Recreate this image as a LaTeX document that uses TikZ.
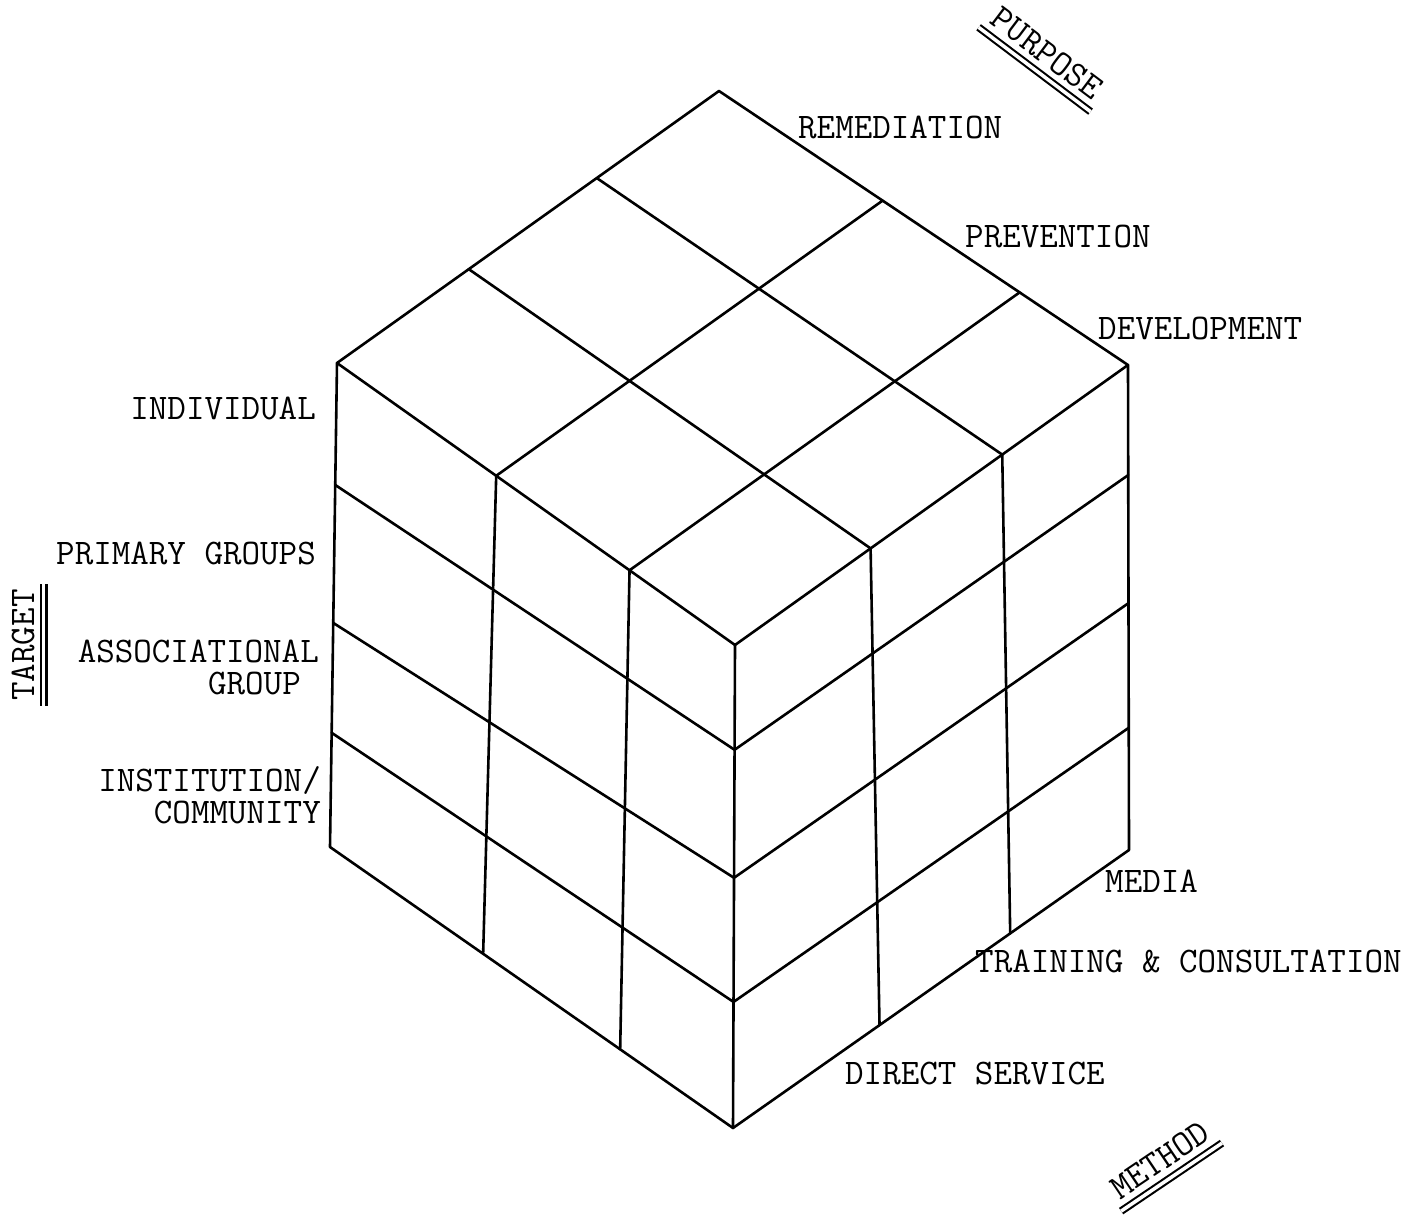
\documentclass[tikz,border=0pt]{standalone}
\usepackage{fontspec}
\usetikzlibrary{calc}
\begin{document}
\begin{tikzpicture}[x=1pt,y=-1pt,
  edge/.style={line width=2.6pt, line cap=round, line join=round},
  lbl/.style={font=\fontsize{36}{32}\selectfont\ttfamily\addfontfeatures{FakeBold=1.3}, inner sep=0pt},
  axislbl/.style={lbl, inner xsep=5pt},
  rule/.style={double distance=3.5pt, line width=2.1pt}]
\useasboundingbox (0,0) rectangle (1403,1220);
\fill[white] (0,0) rectangle (1403,1220);

% cube corners
\coordinate (T)  at (719,91);
\coordinate (L)  at (337,363);
\coordinate (F)  at (735,645);
\coordinate (R)  at (1128,365);
\coordinate (BL) at (330,847);
\coordinate (B)  at (733,1128);
\coordinate (BR) at (1129,850);

% top face divisions
\coordinate (tl1) at ($(T)!0.32!(L)$);
\coordinate (tl2) at ($(T)!0.655!(L)$);
\coordinate (fr1) at ($(R)!0.32!(F)$);
\coordinate (fr2) at ($(R)!0.655!(F)$);
\coordinate (tr1) at ($(T)!0.40!(R)$);
\coordinate (tr2) at ($(T)!0.735!(R)$);
\coordinate (lf1) at ($(L)!0.40!(F)$);
\coordinate (lf2) at ($(L)!0.735!(F)$);

% bottom edge divisions
\coordinate (bb1) at ($(BL)!0.38!(B)$);
\coordinate (bb2) at ($(BL)!0.72!(B)$);
\coordinate (rb1) at ($(BR)!0.30!(B)$);
\coordinate (rb2) at ($(BR)!0.63!(B)$);

% row divisions on the vertical edges
\coordinate (l1) at ($(L)!0.252!(BL)$);
\coordinate (l2) at ($(L)!0.537!(BL)$);
\coordinate (l3) at ($(L)!0.764!(BL)$);
\coordinate (f1) at ($(F)!0.217!(B)$);
\coordinate (f2) at ($(F)!0.482!(B)$);
\coordinate (f3) at ($(F)!0.739!(B)$);
\coordinate (r1) at ($(R)!0.227!(BR)$);
\coordinate (r2) at ($(R)!0.491!(BR)$);
\coordinate (r3) at ($(R)!0.748!(BR)$);

% outline
\draw[edge] (T) -- (R) -- (BR) -- (B) -- (BL) -- (L) -- cycle;
\draw[edge] (L) -- (F) -- (R);
\draw[edge] (F) -- (B);

% top face grid
\draw[edge] (tl1) -- (fr1);
\draw[edge] (tl2) -- (fr2);
\draw[edge] (tr1) -- (lf1);
\draw[edge] (tr2) -- (lf2);

% side face columns
\draw[edge] (lf1) -- (bb1);
\draw[edge] (lf2) -- (bb2);
\draw[edge] (fr1) -- (rb1);
\draw[edge] (fr2) -- (rb2);

% side face rows
\draw[edge] (l1) -- (f1) -- (r1);
\draw[edge] (l2) -- (f2) -- (r2);
\draw[edge] (l3) -- (f3) -- (r3);

% purpose labels
\node[lbl, anchor=west] (rem) at (798,127) {REMEDIATION};
\node[lbl, anchor=west] (prev) at (965,237) {PREVENTION};
\node[lbl, anchor=west] (dev) at (1098,328) {DEVELOPMENT};

% target labels
\node[lbl, anchor=east] (ind) at (316,408) {INDIVIDUAL};
\node[lbl, anchor=east] (prim) at (316,553) {PRIMARY GROUPS};
\node[lbl, anchor=east, align=right] (assoc) at (319,667) {ASSOCIATIONAL\\GROUP\hspace*{18pt}};
\node[lbl, anchor=east, align=right] (inst) at (321,795) {INSTITUTION/\\COMMUNITY};

% method labels
\node[lbl, anchor=west] (media) at (1105,881) {MEDIA};
\node[lbl, anchor=west] (train) at (975,961) {TRAINING \& CONSULTATION};
\node[lbl, anchor=west] (direct) at (845,1073) {DIRECT SERVICE};

% axis titles with double rules
\node[axislbl, rotate=-37] (purpose) at (1047,53) {PURPOSE};
\draw[rule] ($(purpose.south west)!9pt!-90:(purpose.south east)$) -- ($(purpose.south east)!9pt!90:(purpose.south west)$);

\node[axislbl, rotate=90] (target) at (23,645) {TARGET};
\draw[rule] ($(target.south west)!9pt!-90:(target.south east)$) -- ($(target.south east)!9pt!90:(target.south west)$);

\node[axislbl, rotate=34] (method) at (1160,1160) {METHOD};
\draw[rule] ($(method.south west)!9pt!-90:(method.south east)$) -- ($(method.south east)!9pt!90:(method.south west)$);
\end{tikzpicture}
\end{document}
